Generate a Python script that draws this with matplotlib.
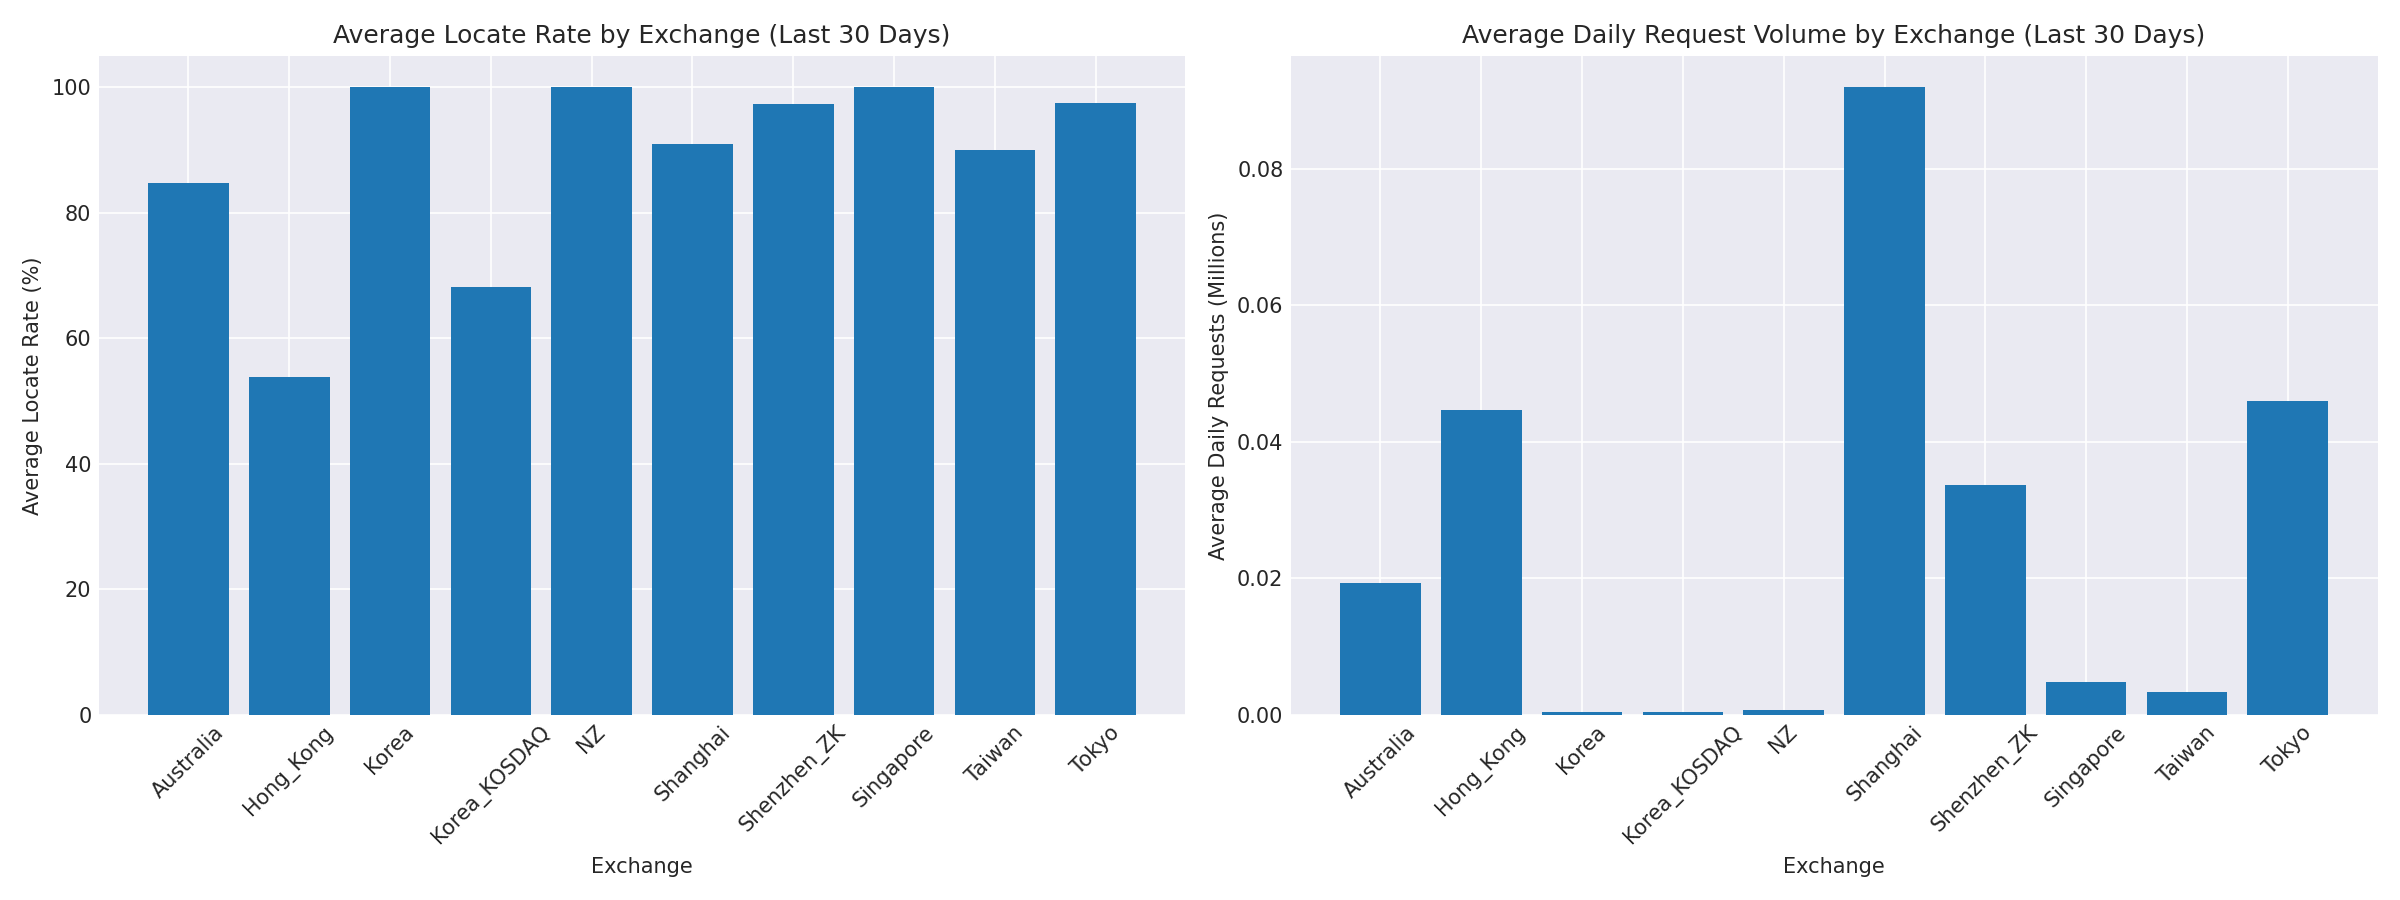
import matplotlib
matplotlib.use("Agg")
import matplotlib.pyplot as plt
import numpy as np

exchanges = ["Australia", "Hong_Kong", "Korea", "Korea_KOSDAQ", "NZ",
             "Shanghai", "Shenzhen_ZK", "Singapore", "Taiwan", "Tokyo"]
locate_rate = [84.7, 53.8, 100.0, 68.2, 100.0, 90.9, 97.3, 100.0, 90.0, 97.5]
daily_requests = [0.0193, 0.0447, 0.0004, 0.0004, 0.0007,
                  0.0919, 0.0336, 0.0048, 0.0033, 0.0459]

plt.style.use("seaborn-v0_8-darkgrid")
plt.rcParams["font.family"] = ["DejaVu Sans"]

fig, axes = plt.subplots(1, 2, figsize=(16, 6))

ax = axes[0]
ax.bar(exchanges, locate_rate, color="#1f77b4")
ax.set_title("Average Locate Rate by Exchange (Last 30 Days)")
ax.set_xlabel("Exchange")
ax.set_ylabel("Average Locate Rate (%)")
ax.tick_params(axis="x", rotation=45)

ax = axes[1]
ax.bar(exchanges, daily_requests, color="#1f77b4")
ax.set_title("Average Daily Request Volume by Exchange (Last 30 Days)")
ax.set_xlabel("Exchange")
ax.set_ylabel("Average Daily Requests (Millions)")
ax.tick_params(axis="x", rotation=45)

plt.tight_layout()
plt.savefig("out.png", dpi=150)
